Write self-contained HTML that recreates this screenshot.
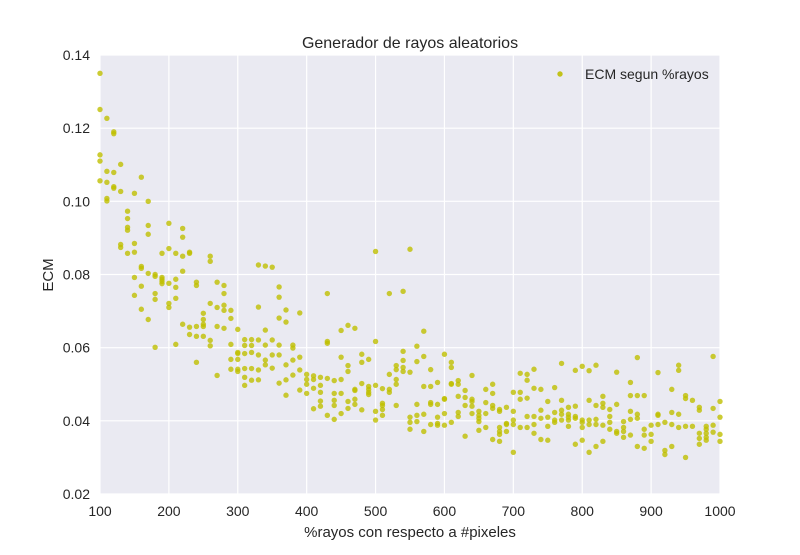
<!DOCTYPE html>
<html><head><meta charset="utf-8"><style>
body{margin:0;background:#fff;}
svg text{font-family:"Liberation Sans",sans-serif;fill:#262626;}
</style></head><body>
<svg id="chart" width="800" height="550">
<rect x="100" y="55" width="620" height="439" fill="#eaeaf2"/>
<g id="grid"></g><g id="pts"></g><g id="ticks"></g>
<text x="410" y="48" text-anchor="middle" font-size="16">Generador de rayos aleatorios</text>
<text x="410" y="537" text-anchor="middle" font-size="15">%rayos con respecto a #pixeles</text>
<text x="53" y="275" text-anchor="middle" font-size="15" transform="rotate(-90 53 275)">ECM</text>
<g>
<circle cx="560" cy="74" r="2.7" fill="#c2c21a"/>
<text x="585" y="79" font-size="14">ECM segun %rayos</text>
</g>
</svg>
<script>
const xCats=[100,110,120,130,140,150,160,170,180,190,200,210,220,230,240,250,260,270,280,290,300,310,320,330,340,350,360,370,380,390,400,410,420,430,440,450,460,470,480,490,500,510,520,530,540,550,560,570,580,590,600,610,620,630,640,650,660,670,680,690,700,710,720,730,740,750,760,770,780,790,800,810,820,830,840,850,860,870,880,890,900,910,920,930,940,950,960,970,980,990,1000];
const ecmValues=[
[0.135,0.1251,0.1127,0.111,0.1056],
[0.1227,0.1082,0.1052,0.1008,0.1001],
[0.119,0.1185,0.1079,0.104,0.1036],
[0.1101,0.1027,0.0882,0.0874],
[0.0973,0.0953,0.0929,0.0921,0.0858],
[0.1022,0.0885,0.0861,0.0792,0.0743],
[0.1066,0.0822,0.0817,0.0768,0.0705],
[0.1,0.0934,0.091,0.0803,0.0677],
[0.08,0.0795,0.0748,0.0732,0.0601],
[0.0858,0.0792,0.0787,0.0781,0.0775],
[0.094,0.0871,0.0776,0.0721,0.071],
[0.0858,0.0787,0.0765,0.0735,0.0609],
[0.0926,0.0902,0.085,0.0809,0.0664],
[0.0861,0.0858,0.0656,0.0636],
[0.0779,0.077,0.0658,0.0631,0.056],
[0.0694,0.0677,0.0664,0.0658,0.0631],
[0.085,0.0836,0.0721,0.062,0.0605],
[0.0779,0.071,0.0658,0.0524],
[0.077,0.0748,0.0716,0.0702,0.0653],
[0.0702,0.068,0.0609,0.0568,0.0541],
[0.065,0.0587,0.0584,0.0568,0.0541,0.0535],
[0.0622,0.0606,0.0584,0.0543,0.0519,0.0497],
[0.0622,0.0606,0.0587,0.0543,0.0511],
[0.0826,0.0711,0.0621,0.058,0.0539,0.0512],
[0.0823,0.0648,0.0607,0.0566,0.0553],
[0.082,0.0621,0.058,0.0544],
[0.0766,0.0738,0.0681,0.0607,0.058,0.0503],
[0.0703,0.067,0.0553,0.0512,0.047],
[0.0607,0.0599,0.0566,0.0525],
[0.0695,0.0574,0.0539,0.0484],
[0.0527,0.0513,0.05,0.0475],
[0.0523,0.0513,0.0489,0.0433],
[0.0519,0.0497,0.0478,0.0454,0.044],
[0.0748,0.0617,0.0612,0.0516,0.0415],
[0.051,0.0475,0.0456,0.0442,0.0404],
[0.0647,0.0574,0.0513,0.0475,0.042],
[0.0661,0.0551,0.0535,0.0453,0.0434],
[0.0653,0.0486,0.0483,0.0459,0.0445],
[0.0582,0.056,0.0502,0.043],
[0.0568,0.0494,0.0486,0.0478,0.0472],
[0.0863,0.0617,0.0497,0.0426,0.0402],
[0.0488,0.0448,0.0442,0.0431,0.0415],
[0.0748,0.0527,0.0486,0.0478],
[0.0551,0.054,0.0513,0.05,0.0442],
[0.0754,0.059,0.0565,0.0546,0.0535],
[0.0869,0.0533,0.041,0.0396,0.0377],
[0.0604,0.0562,0.0445,0.0415,0.0398],
[0.0645,0.0576,0.0494,0.0418,0.0371],
[0.054,0.0494,0.045,0.0445,0.039],
[0.0505,0.0445,0.041,0.0393,0.0388],
[0.0582,0.0461,0.0459,0.042,0.0388],
[0.056,0.0546,0.0502,0.05,0.0396],
[0.051,0.05,0.0467,0.0423,0.0412],
[0.0483,0.0464,0.0442,0.0358],
[0.0524,0.0459,0.0453,0.044,0.042],
[0.0426,0.0415,0.0407,0.0398,0.0374],
[0.0486,0.045,0.042,0.0382],
[0.05,0.0475,0.0442,0.0434,0.0349],
[0.0431,0.0426,0.0382,0.0371,0.0363,0.0344],
[0.0437,0.0393,0.039,0.0371],
[0.0478,0.0426,0.0402,0.039,0.0314],
[0.053,0.0478,0.0459,0.0382],
[0.0527,0.0511,0.0462,0.0412,0.0382],
[0.0541,0.0489,0.0412,0.039,0.0366],
[0.0486,0.0429,0.0407,0.0349],
[0.0453,0.041,0.0385,0.0347],
[0.0491,0.0423,0.0402,0.0396],
[0.0557,0.0456,0.0429,0.0418,0.0402],
[0.0437,0.0418,0.041,0.0402,0.0385],
[0.0538,0.044,0.0412,0.0407,0.0336],
[0.0549,0.0402,0.0396,0.0382,0.0347],
[0.0537,0.0456,0.0402,0.039,0.0314],
[0.0552,0.0442,0.0404,0.039,0.033],
[0.0467,0.0448,0.0437,0.0388,0.0344],
[0.0431,0.0412,0.0396,0.0377],
[0.0533,0.0445,0.0371,0.0366],
[0.0398,0.0382,0.0371,0.0355],
[0.0505,0.0469,0.0426,0.0404,0.0361],
[0.0573,0.0469,0.0418,0.0407,0.033],
[0.0469,0.0377,0.0361,0.0325],
[0.0388,0.0363,0.0344],
[0.0532,0.0418,0.0415,0.039],
[0.0396,0.0319,0.0308],
[0.0486,0.0423,0.039,0.033],
[0.0552,0.0538,0.0418,0.0382],
[0.0469,0.0461,0.0385,0.03],
[0.0456,0.0385],
[0.0437,0.0429,0.0366,0.0352,0.0336],
[0.0385,0.0377,0.0366,0.0355,0.0347],
[0.0576,0.0434,0.0388,0.0369],
[0.0453,0.041,0.0363,0.0344]
];
const xTicks=[100,200,300,400,500,600,700,800,900,1000];
const yTicks=[0.02,0.04,0.06,0.08,0.10,0.12,0.14];
const yTickLabels=["0.02","0.04","0.06","0.08","0.10","0.12","0.14"];

const NS="http://www.w3.org/2000/svg";
function sx(v){return 100+(v-100)/900*620;}
function sy(v){return 494-(v-0.02)/0.12*439;}
const grid=document.getElementById('grid'),pts=document.getElementById('pts'),ticks=document.getElementById('ticks');
function mk(tag,attrs,parent){const e=document.createElementNS(NS,tag);for(const k in attrs)e.setAttribute(k,attrs[k]);parent.appendChild(e);return e;}
xTicks.forEach(t=>{
  const l=mk('line',{x1:sx(t),x2:sx(t),y1:55,y2:494,stroke:'#fff','stroke-width':1.2},grid);
  
  
  const tx=mk('text',{x:sx(t),y:516,'text-anchor':'middle','font-size':14},ticks);
  tx.textContent=t;
  
  
});
yTicks.forEach((t,i)=>{
  const l=mk('line',{x1:100,x2:720,y1:sy(t),y2:sy(t),stroke:'#fff','stroke-width':1.2},grid);
  
  
  const tx=mk('text',{x:90,y:sy(t)+5,'text-anchor':'end','font-size':14},ticks);
  tx.textContent=yTickLabels[i];
  
  
});
xCats.forEach((x,i)=>{
  (ecmValues[i]||[]).forEach(v=>{
    const c=mk('circle',{cx:sx(x),cy:sy(v),r:2.7,fill:'#bfbf00','fill-opacity':0.8},pts);
    
    
  });
});
</script>
</body></html>
